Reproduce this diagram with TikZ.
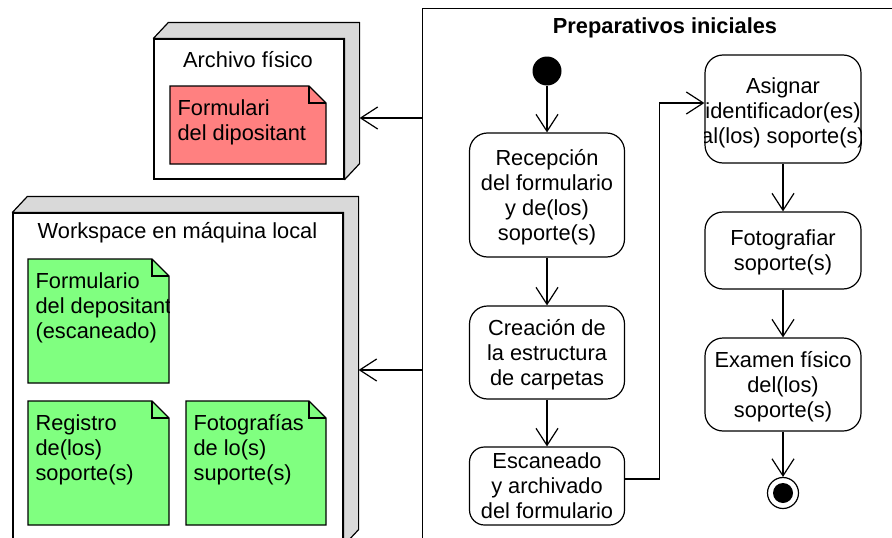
\documentclass[tikz,border=0pt]{standalone}
\usepackage{fontspec}
\setmainfont{Liberation Sans}
\usetikzlibrary{arrows.meta}
\definecolor{sidegray}{HTML}{D9D9D9}
\definecolor{notepink}{HTML}{FF8080}
\definecolor{notegreen}{HTML}{80FF80}
\newcommand\notebox[7]{%
  \filldraw[fill=#6] (#2,#3) -- ({#4-17},#3) -- (#4,{#3+17}) -- (#4,#5) -- (#2,#5) -- cycle;
  \draw ({#4-17},#3) -- ({#4-17},{#3+17}) -- (#4,{#3+17});
  \begin{scope}
    \clip (#2,#3) rectangle (#4,#5);
    \node[notetxt] (#1) at ({#2+7},{#3+13}) {#7};
  \end{scope}}
\begin{document}
\begin{tikzpicture}[x=1pt,y=-1pt,line width=1.2pt,
  font=\fontsize{21.8}{25}\selectfont,
  every node/.style={inner sep=0pt},
  act/.style={draw, rounded corners=18pt, align=center, fill=white, text depth=0pt},
  frontface/.style={draw, fill=white},
  sideface/.style={draw, fill=sidegray, line join=round},
  notetxt/.style={anchor=north west, align=left},
  arr/.style={-{Straight Barb[length=17pt,width=22pt]}},
]
\useasboundingbox (0,0) rectangle (892,538);
% partition
\node[draw, anchor=north west, minimum width=520pt, minimum height=560pt] (part) at (422,8) {};
\node[font=\fontsize{21.8}{25}\selectfont\bfseries] (ptitle) at (665,28) {Preparativos iniciales};
% initial / final
\node[circle, fill=black, minimum size=29pt] (init) at (547,71) {};
\node[circle, draw, minimum size=31pt] (fin) at (783,493) {};
\node[circle, fill=black, minimum size=20pt] (findot) at (fin.center) {};
% activities
\node[act, minimum width=155pt, minimum height=124pt] (rec) at (547,195) {Recepción\\del formulario\\y de(los)\\soporte(s)};
\node[act, minimum width=155pt, minimum height=93pt] (cre) at (547,352.5) {Creación de\\la estructura\\de carpetas};
\node[act, minimum width=155pt, minimum height=78pt, rounded corners=15pt] (esc) at (547,486) {Escaneado\\y archivado\\del formulario};
\node[act, minimum width=156pt, minimum height=108pt] (asig) at (783,109) {};
\begin{scope}
  \clip (asig.south west) rectangle (asig.north east);
  \node[align=center] (asigtxt) at ([yshift=-4pt]asig.center) {Asignar\\identificador(es)\\al(los) soporte(s)};
\end{scope}
\node[act, minimum width=156pt, minimum height=77pt] (foto) at (783,250.5) {Fotografiar\\soporte(s)};
\node[act, minimum width=156pt, minimum height=93pt] (exam) at (783,384.5) {Examen físico\\del(los)\\soporte(s)};
% flow
\draw[arr] (init) -- (rec);
\draw[arr] (rec) -- (cre);
\draw[arr] (cre) -- (esc);
\draw[arr] ([yshift=7pt]esc.east) -- ++(34,0) |- ([yshift=6pt]asig.west);
\draw[arr] (asig) -- (foto);
\draw[arr] (foto) -- (exam);
\draw[arr] (exam) -- (fin);
% Archivo fisico
\node[frontface, minimum width=190pt, minimum height=140pt] (arch) at (249,109) {};
\filldraw[sideface] (arch.north west) -- ++(15,-16) -- ([shift={(15,-16)}]arch.north east) -- ([shift={(15,-16)}]arch.south east) -- (arch.south east) -- (arch.north east) -- cycle;
\node (archlbl) at (248,60) {Archivo físico};
\notebox{n0}{170}{86}{326}{164}{notepink}{Formulari\\del dipositant}
% Workspace
\node[frontface, minimum width=330pt, minimum height=332pt] (ws) at (178,379) {};
\filldraw[sideface] (ws.north west) -- ++(15,-16) -- ([shift={(15,-16)}]ws.north east) -- ([shift={(15,-16)}]ws.south east) -- (ws.south east) -- (ws.north east) -- cycle;
\node (wslbl) at (177.5,233) {Workspace en máquina local};
\notebox{n1}{28}{259}{169}{383}{notegreen}{Formulario\\del depositante\\(escaneado)}
\notebox{n2}{28}{401}{169}{525}{notegreen}{Registro\\de(los)\\soporte(s)}
\notebox{n3}{186}{401}{326}{525}{notegreen}{Fotografías\\de lo(s)\\suporte(s)}
% links to deployment nodes
\coordinate (pa) at (422,118);
\coordinate (pb) at (422,370);
\draw[arr] (pa) -- ([xshift=15pt]arch.east |- pa);
\draw[arr] (pb) -- ([xshift=15pt]ws.east |- pb);
\end{tikzpicture}
\end{document}
